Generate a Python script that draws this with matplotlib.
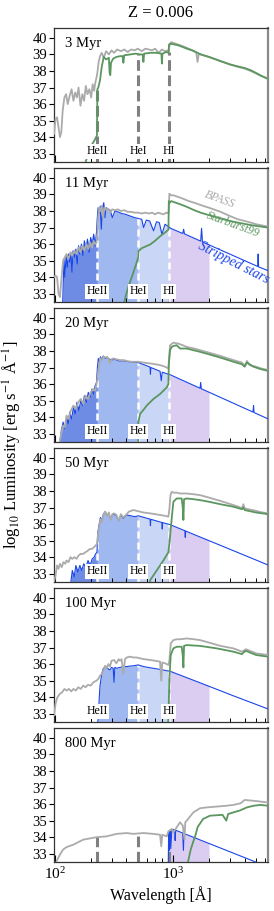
import numpy as np
import matplotlib
matplotlib.use("Agg")
import matplotlib.pyplot as plt
from matplotlib.ticker import LogLocator, NullFormatter, FixedLocator

plt.rcParams["font.family"] = ["Liberation Serif", "DejaVu Serif"]
plt.rcParams["mathtext.fontset"] = "stix"

# ---------------- data (wavelength in Angstrom, log10 L) ----------------
ages = ["3 Myr", "11 Myr", "20 Myr", "50 Myr", "100 Myr", "800 Myr"]
edge_wave = [228, 504, 912]
edge_names = ["HeII", "HeI", "HI"]
band_lo = [0, 228, 504, 912]
band_hi = [228, 504, 912, 2000]

# 3 Myr
w_bpass_3 = [98, 101, 104, 107, 110, 113, 116, 120, 124, 128, 133, 138, 143, 148, 153,
             158, 164, 170, 176, 182, 188, 195, 202, 208, 214, 219, 224, 228, 233, 240,
             248, 258, 270, 285, 300, 315, 335, 360, 385, 410, 440, 470, 500, 540, 580,
             620, 660, 700, 750, 800, 850, 900, 912, 930, 960, 1000, 1100, 1200, 1300, 1450,
             1560, 1600, 1640, 1800, 2000, 2500, 3000, 3500, 4000, 4500, 5000, 5500, 6300]
l_bpass_3 = [34.2, 35.1, 35.2, 34.6, 34.0, 34.3, 35.6, 36.4, 36.6, 36.0, 36.5, 36.9, 36.2, 36.7, 36.4,
             37.0, 35.9, 36.6, 36.2, 37.1, 36.6, 36.9, 36.4, 37.2, 36.8, 37.3, 37.6, 37.9, 38.5, 38.9,
             39.1, 38.8, 39.2, 39.0, 39.25, 39.1, 39.3, 39.2, 39.3, 39.15, 39.3, 39.25, 39.35, 39.2, 39.35,
             39.3, 39.25, 39.35, 39.1, 39.3, 39.2, 39.25, 39.2, 39.6, 39.75, 39.7, 39.6, 39.5, 39.4, 39.25,
             39.1, 38.55, 39.05, 38.95, 38.85, 38.6, 38.4, 38.25, 38.15, 38.0, 37.85, 37.7, 37.55]
w_sb99_3 = [170, 190, 203, 215, 226, 228, 232, 240, 248, 258, 270, 285, 289, 293, 297,
            310, 330, 355, 372, 378, 384, 430, 480, 530, 550, 558, 566, 640, 720, 792,
            800, 808, 870, 911, 918, 940, 1000, 1100, 1200, 1300, 1500, 1700, 2000, 2500, 3000,
            3500, 4000, 4500, 5000, 5500, 6300]
l_sb99_3 = [31.8, 33.0, 33.5, 33.8, 34.1, 36.9, 37.0, 37.45, 38.25, 38.85, 38.7, 38.8, 37.9, 37.75, 38.5,
            38.75, 38.85, 38.9, 38.9, 38.5, 38.95, 39.0, 39.05, 39.0, 39.0, 38.55, 39.05, 39.1, 39.1, 39.05,
            38.45, 39.05, 39.15, 39.1, 39.6, 39.65, 39.62, 39.55, 39.45, 39.35, 39.2, 39.0, 38.85, 38.6, 38.4,
            38.28, 38.18, 38.05, 37.88, 37.72, 37.52]

# 11 Myr
w_bpass_11 = [98, 101, 104, 107, 110, 113, 117, 121, 125, 130, 135, 140, 146, 152, 158,
              164, 170, 177, 184, 191, 198, 205, 212, 218, 224, 228, 232, 237, 242, 248,
              255, 262, 270, 280, 292, 305, 320, 340, 360, 385, 410, 440, 470, 505, 540,
              580, 620, 660, 700, 740, 780, 823, 870, 912, 925, 950, 1000, 1100, 1200, 1350,
              1500, 1800, 2000, 2500, 3000, 3500, 4000, 4500, 5000, 6300]
l_bpass_11 = [34.0, 34.1, 34.0, 33.0, 32.8, 33.8, 35.0, 35.2, 35.4, 35.1, 35.5, 35.3, 35.6, 35.4, 35.8,
              35.5, 35.9, 35.6, 36.0, 35.7, 36.1, 35.8, 36.2, 36.0, 36.1, 36.6, 37.7, 38.2, 38.0, 38.3,
              37.6, 38.2, 38.1, 38.15, 37.9, 38.1, 38.05, 38.1, 38.0, 38.05, 37.95, 37.95, 37.9, 37.9, 37.85,
              37.9, 37.85, 37.9, 37.8, 37.9, 37.85, 37.8, 37.9, 37.85, 39.05, 38.95, 38.95, 38.85, 38.75, 38.6,
              38.5, 38.3, 38.2, 37.95, 37.7, 37.5, 37.4, 37.3, 37.2, 37.06]
w_sb99_11 = [380, 390, 420, 460, 495, 504, 506, 540, 600, 635, 700, 771, 850, 908, 915,
             930, 960, 1000, 1100, 1200, 1300, 1500, 1700, 2000, 2500, 3000, 3500, 4000, 4500, 5000,
             6300]
l_sb99_11 = [32.3, 32.7, 33.5, 34.3, 35.0, 35.2, 35.57, 35.75, 35.9, 35.97, 36.2, 36.47, 36.7, 36.87, 38.6,
             38.5, 38.6, 38.55, 38.45, 38.35, 38.25, 38.05, 37.9, 37.75, 37.55, 37.4, 37.3, 37.22, 37.15, 37.1,
             37.0]
w_strip_11 = [116, 119, 121, 124, 127, 130, 133, 136, 139, 142, 146, 150, 154, 158, 162,
              167, 172, 177, 182, 188, 194, 200, 206, 212, 218, 224, 227, 231, 236, 241,
              246, 252, 258, 264, 270, 280, 292, 305, 320, 340, 365, 395, 430, 470, 505,
              540, 560, 590, 630, 680, 720, 760, 800, 850, 912, 950, 1200, 1220, 1240, 1700,
              1730, 1760, 5150, 5200, 5250, 6300]
l_strip_11 = [32.5, 35.1, 34.0, 35.3, 34.6, 35.4, 34.9, 35.5, 34.3, 35.6, 35.2, 35.7, 34.8, 35.9, 35.4,
              36.0, 35.3, 36.2, 35.7, 36.3, 35.5, 36.4, 36.0, 36.6, 35.9, 36.7, 37.5, 38.2, 37.9, 38.3,
              36.9, 38.2, 38.5, 37.6, 38.2, 38.1, 38.05, 37.6, 38.0, 37.95, 37.85, 37.8, 37.7, 37.6, 37.55,
              37.5, 37.0, 37.45, 37.4, 36.8, 37.35, 37.3, 36.6, 37.2, 37.05, 36.95, 36.64, 36.9, 36.62, 36.18,
              36.95, 36.13, 34.65, 35.4, 34.62, 34.4]

# 20 Myr
w_bpass_20 = [108, 112, 117, 121, 125, 130, 136, 143, 150, 157, 165, 173, 181, 190, 200,
              211, 218, 224, 228, 232, 236, 240, 248, 256, 265, 275, 285, 291, 300, 310,
              330, 355, 380, 403, 440, 505, 560, 635, 700, 771, 850, 907, 920, 937, 1000,
              1100, 1200, 1296, 1500, 1680, 2000, 2500, 3218, 3800, 4000, 4180, 4400, 5000, 5500, 6300]
l_bpass_20 = [32.3, 32.9, 33.5, 33.4, 34.1, 33.9, 34.4, 34.7, 34.5, 34.9, 35.1, 34.8, 35.3, 35.1, 35.5,
              35.7, 35.6, 36.0, 36.3, 36.8, 37.2, 37.55, 37.45, 37.65, 37.6, 37.65, 37.5, 37.25, 37.5, 37.55,
              37.5, 37.45, 37.45, 37.4, 37.35, 37.35, 37.3, 37.25, 37.2, 37.15, 37.05, 36.95, 37.6, 38.35, 38.5,
              38.45, 38.35, 38.25, 38.15, 38.05, 37.9, 37.7, 37.45, 37.3, 37.1, 37.4, 37.15, 37.05, 36.95, 36.85]
w_sb99_20 = [503, 506, 523, 560, 595, 678, 771, 878, 907, 915, 937, 968, 1000, 1067, 1138,
             1296, 1680, 2000, 2500, 3218, 3800, 4000, 4180, 4757, 5500, 6300]
l_sb99_20 = [32.3, 33.7, 34.2, 34.45, 34.7, 35.1, 35.4, 35.8, 36.0, 37.2, 38.05, 38.25, 38.3, 38.35, 38.15,
             38.15, 37.95, 37.8, 37.6, 37.35, 37.2, 37.05, 37.3, 37.05, 36.9, 36.8]
w_strip_20 = [110, 113, 117, 121, 125, 129, 133, 138, 143, 148, 153, 159, 165, 171, 177,
              184, 191, 198, 205, 212, 218, 224, 228, 232, 237, 242, 248, 256, 265, 275,
              291, 300, 320, 345, 380, 420, 460, 505, 560, 600, 635, 640, 645, 700, 771,
              790, 805, 870, 912, 937, 1200, 1680, 1700, 1720, 3000, 4700, 4757, 4800, 6300]
l_strip_20 = [32.5, 33.2, 33.7, 33.3, 34.0, 33.6, 34.3, 33.9, 34.6, 34.2, 34.9, 34.4, 35.0, 34.7, 35.3,
              34.9, 35.5, 35.2, 35.7, 35.4, 35.9, 36.1, 37.0, 37.55, 37.3, 37.65, 37.5, 37.7, 37.55, 37.6,
              37.5, 37.45, 37.5, 37.4, 37.4, 37.35, 37.32, 37.3, 37.18, 37.1, 37.03, 36.6, 37.0, 36.9, 36.78,
              36.2, 36.72, 36.64, 36.6, 36.57, 36.22, 35.75, 36.1, 35.72, 34.94, 34.31, 34.7, 34.28, 33.9]

# 50 Myr
w_bpass_50 = [98, 101, 104, 107, 110, 114, 118, 122, 125, 130, 135, 140, 146, 152, 158,
              165, 173, 181, 190, 197, 205, 213, 220, 226, 230, 236, 242, 248, 256, 265,
              275, 285, 295, 305, 315, 330, 345, 360, 378, 403, 420, 440, 459, 490, 523,
              560, 635, 700, 771, 850, 907, 925, 945, 968, 1000, 1067, 1138, 1215, 1296, 1500,
              1680, 2000, 2500, 3218, 3700, 3800, 3900, 4000, 4300, 5000, 5500, 6300]
l_bpass_50 = [32.5, 32.9, 33.5, 33.3, 33.6, 33.4, 33.7, 33.6, 33.8, 33.7, 34.0, 33.9, 34.0, 33.9, 34.1,
              34.2, 34.2, 34.3, 34.4, 34.5, 34.5, 34.6, 34.7, 34.8, 35.3, 35.8, 36.3, 36.1, 36.55, 36.75,
              36.5, 36.7, 36.25, 36.6, 36.65, 36.55, 36.2, 36.6, 36.4, 36.6, 36.75, 36.8, 36.85, 36.8, 36.75,
              36.7, 36.65, 36.6, 36.55, 36.5, 36.45, 36.9, 37.75, 37.95, 37.9, 37.9, 37.85, 37.85, 37.85, 37.8,
              37.75, 37.6, 37.4, 37.15, 37.0, 36.95, 37.2, 36.95, 36.9, 36.8, 36.72, 36.65]
w_sb99_50 = [630, 635, 723, 823, 907, 930, 968, 1000, 1067, 1175, 1200, 1215, 1230, 1296, 1500,
             1680, 2000, 2500, 3218, 3800, 3900, 4000, 5000, 6300]
l_sb99_50 = [32.3, 32.6, 33.2, 33.8, 34.3, 35.0, 36.35, 37.35, 37.55, 37.55, 37.0, 36.25, 37.5, 37.55, 37.5,
             37.45, 37.35, 37.2, 37.05, 36.9, 37.0, 36.85, 36.7, 36.6]
w_strip_50 = [136, 140, 145, 150, 156, 162, 168, 175, 182, 190, 198, 206, 214, 220, 226,
              230, 236, 242, 248, 256, 265, 275, 285, 295, 305, 315, 330, 345, 360, 378,
              403, 440, 470, 505, 560, 635, 640, 645, 771, 800, 805, 810, 912, 937, 1200,
              1250, 1260, 1270, 1680, 3000, 6300]
l_strip_50 = [32.5, 33.2, 32.8, 33.5, 33.1, 33.5, 33.2, 33.6, 33.4, 33.8, 33.5, 33.9, 34.0, 34.2, 34.3,
              35.5, 36.0, 36.4, 36.2, 36.6, 36.75, 36.5, 36.65, 36.3, 36.55, 36.6, 36.5, 36.2, 36.55, 36.35,
              36.55, 36.5, 36.45, 36.5, 36.41, 36.3, 35.9, 36.29, 36.13, 36.1, 35.7, 36.09, 35.99, 35.97, 35.65,
              35.6, 35.2, 35.58, 35.22, 34.48, 33.53]

# 100 Myr
w_bpass_100 = [98, 101, 104, 107, 110, 115, 120, 125, 131, 137, 143, 150, 157, 165, 173,
               181, 190, 200, 211, 224, 232, 240, 248, 256, 265, 273, 282, 291, 300, 315,
               330, 345, 354, 365, 378, 390, 403, 430, 459, 490, 523, 560, 635, 700, 771,
               790, 805, 850, 907, 925, 950, 1000, 1067, 1138, 1296, 1500, 1680, 2000, 2500, 3218,
               3800, 3900, 4100, 5000, 6300]
l_bpass_100 = [32.9, 33.6, 33.95, 34.1, 34.2, 34.3, 34.5, 34.4, 34.5, 34.35, 34.5, 34.4, 34.6, 34.5, 34.7,
               34.6, 34.75, 34.7, 34.9, 35.0, 35.1, 35.3, 35.4, 35.6, 35.9, 35.75, 36.0, 35.85, 36.2, 36.25,
               36.05, 36.3, 36.2, 36.3, 35.4, 36.3, 36.4, 36.45, 36.4, 36.4, 36.35, 36.3, 36.25, 36.2, 36.15,
               35.0, 36.1, 36.05, 35.95, 36.2, 37.25, 37.45, 37.5, 37.5, 37.55, 37.5, 37.45, 37.3, 37.1, 36.95,
               36.75, 36.8, 36.9, 36.65, 36.55]
w_sb99_100 = [900, 907, 925, 950, 1000, 1067, 1175, 1200, 1215, 1230, 1296, 1680, 2323, 3218, 3800,
              3900, 4100, 5000, 6300]
l_sb99_100 = [32.3, 32.7, 35.1, 36.55, 36.95, 37.05, 37.05, 36.5, 35.8, 37.1, 37.15, 37.1, 36.95, 36.75, 36.6,
              36.7, 36.8, 36.55, 36.45]
w_strip_100 = [228, 232, 236, 240, 248, 256, 265, 273, 282, 291, 300, 310, 315, 320, 331,
               354, 378, 403, 430, 459, 505, 560, 635, 771, 850, 912, 937, 1000, 1680, 3218,
               6300]
l_strip_100 = [32.4, 32.7, 33.9, 34.7, 35.4, 35.75, 35.8, 35.85, 35.7, 35.65, 35.8, 35.75, 34.9, 35.8, 35.75,
               35.8, 35.85, 35.85, 35.88, 35.9, 35.95, 35.85, 35.78, 35.68, 35.62, 35.58, 35.57, 35.49, 34.87, 34.08,
               33.29]

# 800 Myr
w_bpass_800 = [103, 110, 117, 125, 143, 173, 224, 273, 331, 403, 459, 558, 678, 771, 790,
               805, 878, 907, 968, 1000, 1067, 1138, 1200, 1240, 1260, 1296, 1475, 1680, 1912, 2323,
               2800, 3218, 3700, 4000, 4757, 6300]
l_bpass_800 = [32.55, 32.95, 33.25, 33.4, 33.55, 33.85, 34.0, 34.05, 34.2, 34.25, 34.2, 34.25, 34.2, 34.15, 33.45,
               34.15, 34.05, 34.35, 34.5, 34.3, 34.6, 34.9, 34.7, 33.85, 34.9, 35.0, 35.5, 35.75, 35.8, 35.85,
               35.9, 35.95, 36.05, 36.25, 36.2, 36.1]
w_sb99_800 = [1296, 1333, 1400, 1475, 1534, 1600, 1780, 2040, 2600, 2800, 2900, 3218, 3600, 4180, 4757,
              5415, 6300]
l_sb99_800 = [31.9, 32.55, 33.25, 33.75, 34.1, 34.6, 35.1, 35.3, 35.35, 35.0, 35.4, 35.5, 35.6, 35.8, 35.9,
              35.95, 35.9]
w_strip_800 = [905, 912, 920, 930, 940, 950, 970, 1000, 1025, 1035, 1045, 1200, 1215, 1230, 2000,
               4180, 4757, 6300]
l_strip_800 = [32.3, 34.33, 33.2, 34.4, 34.35, 33.3, 34.45, 34.47, 34.44, 33.8, 34.42, 34.25, 33.2, 34.22, 33.62,
               32.71, 32.55, 32.2]

bpass = [(w_bpass_3, l_bpass_3), (w_bpass_11, l_bpass_11), (w_bpass_20, l_bpass_20),
         (w_bpass_50, l_bpass_50), (w_bpass_100, l_bpass_100), (w_bpass_800, l_bpass_800)]
sb99 = [(w_sb99_3, l_sb99_3), (w_sb99_11, l_sb99_11), (w_sb99_20, l_sb99_20),
        (w_sb99_50, l_sb99_50), (w_sb99_100, l_sb99_100), (w_sb99_800, l_sb99_800)]
strip = [None, (w_strip_11, l_strip_11), (w_strip_20, l_strip_20),
         (w_strip_50, l_strip_50), (w_strip_100, l_strip_100), (w_strip_800, l_strip_800)]

# ---------------- styling ----------------
c_gray = "#ababab"
c_green = "#5a965e"
c_blue = "#1a46e8"
band_colors = ["#6e8ce4", "#a0b8f0", "#c9d6f6", "#dbcdf2"]
y_lo, y_hi = 32.5, 40.6

W, H = 274, 911
fig = plt.figure(figsize=(W / 100, H / 100), dpi=100)

axes = []
for i in range(6):
    top = 28 + 140 * i
    ax = fig.add_axes([54 / W, 1 - (top + 134) / H, 214 / W, 134 / H])
    axes.append(ax)
    ax.set_xscale("log")
    ax.set_xlim(98, 6300)
    ax.set_ylim(y_lo, y_hi)

    wb, lb = bpass[i]
    wg, lg = sb99[i]

    # shaded ionising bands under the stripped-star spectrum
    if strip[i] is not None:
        ws, ls = np.array(strip[i][0]), np.array(strip[i][1])
        bands = [3] if i == 5 else [0, 1, 2, 3]
        for b in bands:
            lo = max(band_lo[b], ws[0])
            hi = band_hi[b]
            m = (ws > lo) & (ws < hi)
            xs = np.concatenate([[lo], ws[m], [hi]])
            ys = np.concatenate([[np.interp(lo, ws, ls)], ls[m], [np.interp(hi, ws, ls)]])
            ax.fill_between(xs, ys, y_lo - 1, color=band_colors[b], lw=0, zorder=1)

    # ionisation edges
    for e, name in zip(edge_wave, edge_names):
        if i == 0:
            top_val = np.interp(e, wg, lg)
            ax.plot([e, e], [y_lo, top_val], color="#808080", lw=2.2, ls=(0, (3.5, 1.5)), zorder=2)
        elif i == 5:
            top_val = np.interp(e, wb, lb)
            ax.plot([e, e], [y_lo, top_val], color="#808080", lw=2.2, ls=(0, (3.5, 1.5)), zorder=2)
        else:
            ws, ls = strip[i]
            top_val = np.interp(e, ws, ls)
            ax.plot([e, e], [y_lo, top_val], color="white", lw=1.8, ls=(0, (2.8, 1.6)), zorder=2)
        if i < 5:
            ax.text(e, 33.15, name, ha="center", va="center", fontsize=8.5, zorder=6,
                    bbox=dict(boxstyle="square,pad=0.12", fc="white", ec="none"))

    if strip[i] is not None:
        ax.plot(strip[i][0], strip[i][1], color=c_blue, lw=0.8, zorder=3)
    ax.plot(wb, lb, color=c_gray, lw=1.3, zorder=4)
    ax.plot(wg, lg, color=c_green, lw=1.3, zorder=5)

    ax.text(0.05, 0.93, ages[i], transform=ax.transAxes, ha="left", va="top", fontsize=10.5)

    # ticks
    ax.yaxis.set_major_locator(FixedLocator([33, 34, 35, 36, 37, 38, 39, 40]))
    ax.tick_params(axis="y", which="both", direction="out", length=3.5, width=0.8,
                   labelsize=10.5, pad=1.5, right=False)
    ax.xaxis.set_major_locator(LogLocator(base=10, numticks=10))
    ax.xaxis.set_minor_locator(LogLocator(base=10, subs=np.arange(2, 10), numticks=10))
    ax.xaxis.set_minor_formatter(NullFormatter())
    ax.tick_params(axis="x", which="major", direction="in", length=5, width=0.8,
                   labelsize=11, top=False, pad=3)
    ax.tick_params(axis="x", which="minor", direction="in", length=3, width=0.7, top=False)
    if i < 5:
        ax.tick_params(axis="x", which="both", labelbottom=False)

    for s in ["left", "top", "bottom"]:
        ax.spines[s].set_color("#333333")
        ax.spines[s].set_linewidth(0.9)
    ax.spines["right"].set_color("#8a8a8a")
    ax.spines["right"].set_linewidth(1.6)

# model labels in the 11 Myr panel
ax = axes[1]
ax.text(2480, 38.69, "BPASS", color=c_gray, fontsize=8.5, style="italic",
        rotation=-20, rotation_mode="anchor", ha="center", va="center", zorder=7)
ax.text(3220, 37.16, "Starburst99", color=c_green, fontsize=8.5, style="italic",
        rotation=-20, rotation_mode="anchor", ha="center", va="center", zorder=7)
ax.text(3220, 34.88, "Stripped stars", color=c_blue, fontsize=10, style="italic",
        rotation=-27, rotation_mode="anchor", ha="center", va="center", zorder=7)

fig.text(161 / W, 1 - 13 / H, "Z = 0.006", ha="center", va="center", fontsize=12)
fig.text(161 / W, 1 - 895 / H, "Wavelength [Å]", ha="center", va="center", fontsize=11.5)
fig.text(12 / W, 1 - 445 / H, r"log$_{10}$ Luminosity [erg s$^{-1}$ Å$^{-1}$]",
         ha="center", va="center", rotation=90, fontsize=12)

fig.savefig("out.png", dpi=100)
